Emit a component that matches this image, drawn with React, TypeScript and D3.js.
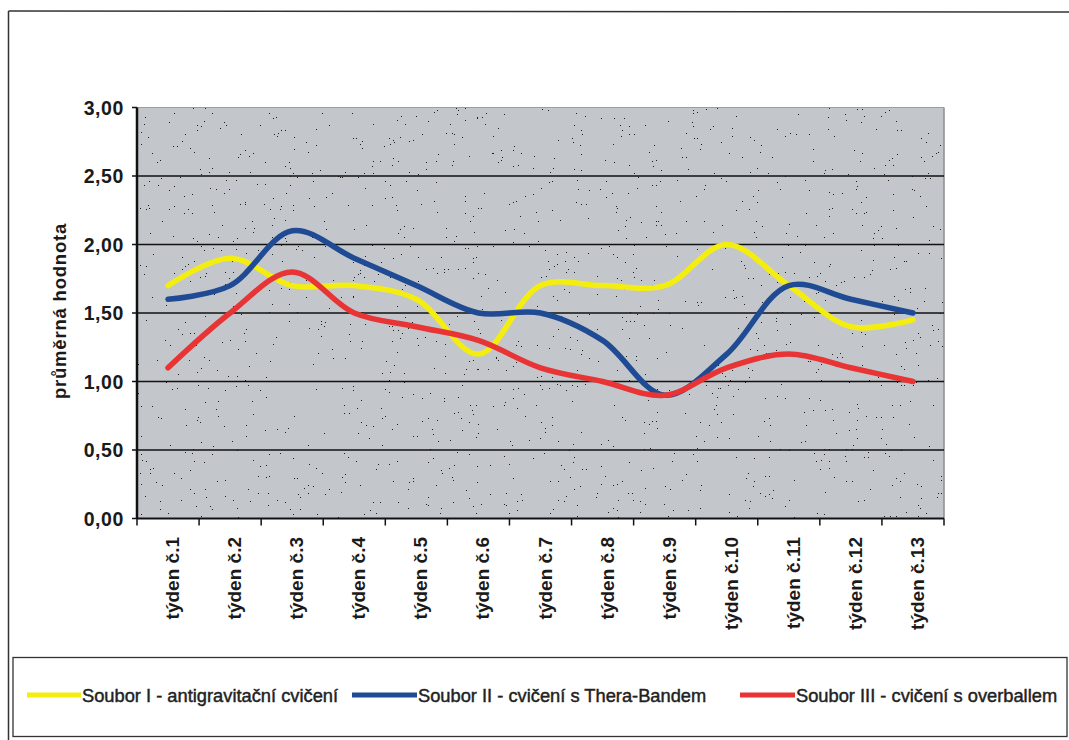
import React from "react";
import * as d3 from "d3";

// Weekly mean scores for three exercise groups
const weeks = [
  "týden č.1", "týden č.2", "týden č.3", "týden č.4", "týden č.5", "týden č.6", "týden č.7",
  "týden č.8", "týden č.9", "týden č.10", "týden č.11", "týden č.12", "týden č.13",
];
const souborI = [1.7, 1.9, 1.7, 1.7, 1.6, 1.2, 1.7, 1.7, 1.7, 2.0, 1.7, 1.4, 1.45];
const souborII = [1.6, 1.7, 2.1, 1.9, 1.7, 1.5, 1.5, 1.3, 0.9, 1.2, 1.7, 1.6, 1.5];
const souborIII = [1.1, 1.5, 1.8, 1.5, 1.4, 1.3, 1.1, 1.0, 0.9, 1.1, 1.2, 1.1, 1.0];
const yTicks = [0, 0.5, 1, 1.5, 2, 2.5, 3];
const seriesNames = [
  "Soubor I - antigravitační cvičení",
  "Soubor II - cvičení s Thera-Bandem",
  "Soubor III - cvičení s overballem",
];
const seriesColors = ["#f4ee10", "#1f4a94", "#e83434"];

const W = 1069;
const H = 740;
const plot = { left: 137, right: 944, top: 107.5, bottom: 518.5 };
const font = "'Liberation Sans', Arial, sans-serif";

export default function App() {
  const x = d3.scaleBand<string>().domain(weeks).range([plot.left, plot.right]);
  const y = d3.scaleLinear().domain([0, 3]).range([plot.bottom, plot.top]);
  const line = d3
    .line<number>()
    .x((_, i) => (x(weeks[i]) as number) + x.bandwidth() / 2)
    .y((v) => y(v))
    .curve(d3.curveCatmullRom.alpha(0.5));

  const series = [souborI, souborII, souborIII];
  const fmt = (v: number) => v.toFixed(2).replace(".", ",");

  // legend entries: line start, line end, text start
  const legendItems = [
    { x1: 27, x2: 81, tx: 82 },
    { x1: 352, x2: 417, tx: 418 },
    { x1: 740, x2: 795, tx: 796 },
  ];

  return (
    <svg
      width={W}
      height={H}
      style={{ position: "absolute", left: 0, top: 0, background: "#fff" }}
      fontFamily={font}
    >
      <defs>
        {/* sparse dark speckle texture for the plot background */}
        <filter id="speckle" x="0" y="0" width="100%" height="100%">
          <feTurbulence type="fractalNoise" baseFrequency="0.75" numOctaves="2" seed="7" result="n" />
          <feColorMatrix
            in="n"
            type="matrix"
            values="0 0 0 0 0  0 0 0 0 0  0 0 0 0 0  12 0 0 0 -8.9"
            result="a"
          />
          <feComponentTransfer in="a">
            <feFuncA type="discrete" tableValues="0 0.85" />
          </feComponentTransfer>
        </filter>
      </defs>

      {/* outer chart frame */}
      <line x1={8.5} y1={11} x2={1069} y2={12} stroke="#333" strokeWidth={1.5} />
      <line x1={8.5} y1={11} x2={8.5} y2={740} stroke="#333" strokeWidth={1.5} />

      {/* plot area */}
      <rect
        x={plot.left}
        y={plot.top}
        width={plot.right - plot.left}
        height={plot.bottom - plot.top}
        fill="#c3c6cb"
      />
      <rect
        x={plot.left}
        y={plot.top}
        width={plot.right - plot.left}
        height={plot.bottom - plot.top}
        fill="#000"
        filter="url(#speckle)"
      />
      <line x1={plot.right} y1={plot.top} x2={plot.right} y2={plot.bottom} stroke="#8a8d92" strokeWidth={1.5} />
      <line x1={plot.left} y1={plot.top} x2={plot.right} y2={plot.top} stroke="#9a9da2" strokeWidth={1} />

      {/* horizontal gridlines */}
      {yTicks.slice(1, -1).map((t) => (
        <line key={t} x1={plot.left} x2={plot.right} y1={y(t)} y2={y(t)} stroke="#111" strokeWidth={1.6} />
      ))}

      {/* y axis */}
      <line x1={plot.left} x2={plot.left} y1={plot.top} y2={plot.bottom} stroke="#111" strokeWidth={2.5} />
      {yTicks.map((t) => (
        <g key={t}>
          <line x1={plot.left - 5} x2={plot.left} y1={y(t)} y2={y(t)} stroke="#111" strokeWidth={1.5} />
          <text
            x={124}
            y={y(t)}
            dy="0.36em"
            textAnchor="end"
            fontSize={19.5}
            fontWeight="bold"
            letterSpacing={0.6}
            fill="#1a1a1a"
          >
            {fmt(t)}
          </text>
        </g>
      ))}
      <text
        transform={`translate(66, 311) rotate(-90)`}
        textAnchor="middle"
        fontSize={18.5}
        fontWeight="bold"
        letterSpacing={0.8}
        fill="#1a1a1a"
      >
        průměrná hodnota
      </text>

      {/* x axis */}
      <line x1={plot.left} x2={plot.right} y1={plot.bottom} y2={plot.bottom} stroke="#111" strokeWidth={2} />
      {[...weeks.map((w) => x(w) as number), plot.right].map((bx, i) => (
        <line key={i} x1={bx} x2={bx} y1={plot.bottom} y2={plot.bottom + 7} stroke="#111" strokeWidth={1.5} />
      ))}
      {weeks.map((w) => {
        const cx = (x(w) as number) + x.bandwidth() / 2;
        return (
          <text
            key={w}
            transform={`translate(${cx + 11}, 537) rotate(-90)`}
            textAnchor="end"
            fontSize={19}
            fontWeight="bold"
            fill="#1a1a1a"
          >
            {w}
          </text>
        );
      })}

      {/* series lines */}
      {series.map((s, i) => (
        <path
          key={i}
          d={line(s) as string}
          fill="none"
          stroke={seriesColors[i]}
          strokeWidth={5.5}
          strokeLinecap="round"
          strokeLinejoin="round"
        />
      ))}

      {/* legend */}
      <rect x={13} y={657.5} width={1054} height={79} fill="#fff" stroke="#333" strokeWidth={1.3} />
      {legendItems.map((it, i) => (
        <g key={i}>
          <line x1={it.x1} x2={it.x2} y1={695} y2={695} stroke={seriesColors[i]} strokeWidth={5} />
          <text
            x={it.tx}
            y={701.5}
            fontSize={18.3}
            fill="#222"
            stroke="#222"
            strokeWidth={0.45}
          >
            {seriesNames[i]}
          </text>
        </g>
      ))}
    </svg>
  );
}
